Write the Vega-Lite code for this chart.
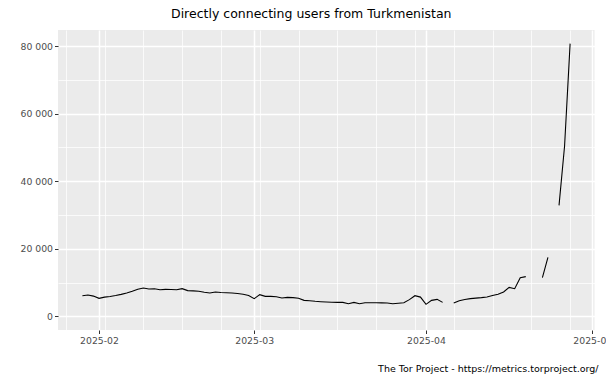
{
  "$schema": "https://vega.github.io/schema/vega-lite/v6.json",
  "width": 536.5,
  "height": 300,
  "autosize": {"type": "none"},
  "padding": {"left": 58, "top": 30, "right": 11.5, "bottom": 49},
  "background": "white",
  "config": {
    "font": "DejaVu Sans",
    "view": {"fill": "#EBEBEB", "stroke": null}
  },
  "title": {
    "text": "Directly connecting users from Turkmenistan",
    "anchor": "start",
    "frame": "group",
    "dx": 113,
    "offset": 0,
    "baseline": "alphabetic",
    "fontSize": 12.5,
    "fontWeight": "normal",
    "font": "DejaVu Sans",
    "color": "black"
  },
  "data": {
    "values": [
      {"date": "2025-01-29", "users": 6120},
      {"date": "2025-01-30", "users": 6300},
      {"date": "2025-01-31", "users": 6000},
      {"date": "2025-02-01", "users": 5330},
      {"date": "2025-02-02", "users": 5700},
      {"date": "2025-02-03", "users": 5880},
      {"date": "2025-02-04", "users": 6150},
      {"date": "2025-02-05", "users": 6500},
      {"date": "2025-02-06", "users": 6900},
      {"date": "2025-02-07", "users": 7400},
      {"date": "2025-02-08", "users": 8050},
      {"date": "2025-02-09", "users": 8380},
      {"date": "2025-02-10", "users": 8090},
      {"date": "2025-02-11", "users": 8180},
      {"date": "2025-02-12", "users": 7890},
      {"date": "2025-02-13", "users": 8000},
      {"date": "2025-02-14", "users": 7950},
      {"date": "2025-02-15", "users": 7890},
      {"date": "2025-02-16", "users": 8190},
      {"date": "2025-02-17", "users": 7620},
      {"date": "2025-02-18", "users": 7550},
      {"date": "2025-02-19", "users": 7450},
      {"date": "2025-02-20", "users": 7150},
      {"date": "2025-02-21", "users": 6900},
      {"date": "2025-02-22", "users": 7200},
      {"date": "2025-02-23", "users": 7050},
      {"date": "2025-02-24", "users": 6980},
      {"date": "2025-02-25", "users": 6900},
      {"date": "2025-02-26", "users": 6750},
      {"date": "2025-02-27", "users": 6550},
      {"date": "2025-02-28", "users": 6200},
      {"date": "2025-03-01", "users": 5230},
      {"date": "2025-03-02", "users": 6420},
      {"date": "2025-03-03", "users": 5920},
      {"date": "2025-03-04", "users": 5900},
      {"date": "2025-03-05", "users": 5820},
      {"date": "2025-03-06", "users": 5430},
      {"date": "2025-03-07", "users": 5620},
      {"date": "2025-03-08", "users": 5550},
      {"date": "2025-03-09", "users": 5350},
      {"date": "2025-03-10", "users": 4730},
      {"date": "2025-03-11", "users": 4600},
      {"date": "2025-03-12", "users": 4450},
      {"date": "2025-03-13", "users": 4340},
      {"date": "2025-03-14", "users": 4240},
      {"date": "2025-03-15", "users": 4160},
      {"date": "2025-03-16", "users": 4140},
      {"date": "2025-03-17", "users": 4140},
      {"date": "2025-03-18", "users": 3750},
      {"date": "2025-03-19", "users": 4140},
      {"date": "2025-03-20", "users": 3750},
      {"date": "2025-03-21", "users": 4040},
      {"date": "2025-03-22", "users": 4040},
      {"date": "2025-03-23", "users": 4040},
      {"date": "2025-03-24", "users": 4000},
      {"date": "2025-03-25", "users": 3940},
      {"date": "2025-03-26", "users": 3750},
      {"date": "2025-03-27", "users": 3900},
      {"date": "2025-03-28", "users": 4050},
      {"date": "2025-03-29", "users": 4950},
      {"date": "2025-03-30", "users": 6120},
      {"date": "2025-03-31", "users": 5700},
      {"date": "2025-04-01", "users": 3550},
      {"date": "2025-04-02", "users": 4730},
      {"date": "2025-04-03", "users": 5030},
      {"date": "2025-04-04", "users": 4140},
      {"date": "2025-04-05", "users": null},
      {"date": "2025-04-06", "users": 3940},
      {"date": "2025-04-07", "users": 4600},
      {"date": "2025-04-08", "users": 4980},
      {"date": "2025-04-09", "users": 5250},
      {"date": "2025-04-10", "users": 5400},
      {"date": "2025-04-11", "users": 5550},
      {"date": "2025-04-12", "users": 5750},
      {"date": "2025-04-13", "users": 6150},
      {"date": "2025-04-14", "users": 6550},
      {"date": "2025-04-15", "users": 7200},
      {"date": "2025-04-16", "users": 8580},
      {"date": "2025-04-17", "users": 8190},
      {"date": "2025-04-18", "users": 11450},
      {"date": "2025-04-19", "users": 11750},
      {"date": "2025-04-20", "users": null},
      {"date": "2025-04-21", "users": null},
      {"date": "2025-04-22", "users": 11450},
      {"date": "2025-04-23", "users": 17460},
      {"date": "2025-04-24", "users": null},
      {"date": "2025-04-25", "users": 32850},
      {"date": "2025-04-26", "users": 50400},
      {"date": "2025-04-27", "users": 80700}
    ]
  },
  "mark": {
    "type": "line",
    "color": "black",
    "strokeWidth": 1.1,
    "invalid": "break-paths-filter-domains",
    "clip": true
  },
  "encoding": {
    "x": {
      "field": "date",
      "type": "temporal",
      "scale": {
        "type": "utc",
        "domain": [
          {"year": 2025, "month": 1, "date": 24, "hours": 14, "minutes": 24, "utc": true},
          {"year": 2025, "month": 5, "date": 1, "hours": 9, "minutes": 36, "utc": true}
        ]
      },
      "axis": {
        "values": [
          {"year": 2025, "month": 1, "date": 26, "utc": true},
          {"year": 2025, "month": 2, "date": 1, "utc": true},
          {"year": 2025, "month": 2, "date": 2, "utc": true},
          {"year": 2025, "month": 2, "date": 9, "utc": true},
          {"year": 2025, "month": 2, "date": 16, "utc": true},
          {"year": 2025, "month": 2, "date": 23, "utc": true},
          {"year": 2025, "month": 3, "date": 1, "utc": true},
          {"year": 2025, "month": 3, "date": 2, "utc": true},
          {"year": 2025, "month": 3, "date": 9, "utc": true},
          {"year": 2025, "month": 3, "date": 16, "utc": true},
          {"year": 2025, "month": 3, "date": 23, "utc": true},
          {"year": 2025, "month": 3, "date": 30, "utc": true},
          {"year": 2025, "month": 4, "date": 1, "utc": true},
          {"year": 2025, "month": 4, "date": 6, "utc": true},
          {"year": 2025, "month": 4, "date": 13, "utc": true},
          {"year": 2025, "month": 4, "date": 20, "utc": true},
          {"year": 2025, "month": 4, "date": 27, "utc": true},
          {"year": 2025, "month": 5, "date": 1, "utc": true}
        ],
        "labelExpr": "utcdate(datum.value) == 1 ? utcFormat(datum.value, '%Y-%m') : ''",
        "labelFont": "DejaVu Sans",
        "labelFontSize": 9.3,
        "labelColor": "#4D4D4D",
        "labelPadding": 3,
        "labelFlush": false,
        "labelOverlap": false,
        "tickSize": 3.5,
        "tickColor": "#333333",
        "tickWidth": 1,
        "tickOpacity": {"condition": {"test": "utcdate(datum.value) == 1", "value": 1}, "value": 0},
        "domain": false,
        "grid": true,
        "gridColor": "white",
        "gridOpacity": 1,
        "gridWidth": {"condition": {"test": "utcdate(datum.value) == 1", "value": 1.5}, "value": 0.75},
        "title": "The Tor Project - https://metrics.torproject.org/",
        "titleFont": "DejaVu Sans",
        "titleFontSize": 9.5,
        "titleFontWeight": "normal",
        "titleColor": "black",
        "titleAnchor": "end",
        "titleAlign": "right",
        "titleBaseline": "alphabetic",
        "titleX": 540,
        "titleY": 41
      }
    },
    "y": {
      "field": "users",
      "type": "quantitative",
      "scale": {"domain": [-4035, 84735], "nice": false, "zero": false},
      "axis": {
        "values": [0, 10000, 20000, 30000, 40000, 50000, 60000, 70000, 80000],
        "labelExpr": "datum.value % 20000 == 0 ? replace(format(datum.value, ','), ',', ' ') : ''",
        "labelFont": "DejaVu Sans",
        "labelFontSize": 9.3,
        "labelColor": "#4D4D4D",
        "labelPadding": 2,
        "labelOverlap": false,
        "tickSize": 3.5,
        "tickColor": "#333333",
        "tickWidth": 1,
        "tickOpacity": {"condition": {"test": "datum.value % 20000 == 0", "value": 1}, "value": 0},
        "domain": false,
        "grid": true,
        "gridColor": "white",
        "gridOpacity": 1,
        "gridWidth": {"condition": {"test": "datum.value % 20000 == 0", "value": 1.5}, "value": 0.75},
        "title": null
      }
    }
  }
}
